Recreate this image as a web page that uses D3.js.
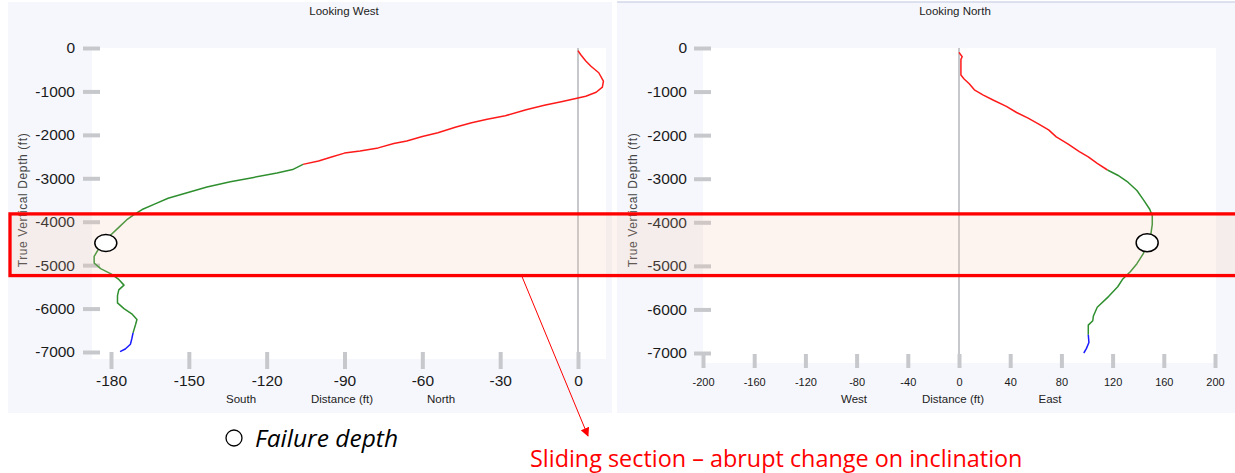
<!DOCTYPE html>
<html lang="en">
<head>
  <meta charset="UTF-8" />
  <title>Wellbore trajectory - Looking West / Looking North</title>
  <script src="https://d3js.org/d3.v7.min.js"></script>
  <style>
    body { margin: 0; background: #fff; }
    svg { display: block; font-family: "Liberation Sans", Arial, sans-serif; }
  </style>
</head>
<body>
  <svg id="chart" width="1235" height="473"></svg>

  <script>
    // Tick values
    const depthTicks = [0, -1000, -2000, -3000, -4000, -5000, -6000, -7000];
    const westTicks = [-180, -150, -120, -90, -60, -30, 0];
    const northTicks = [-200, -160, -120, -80, -40, 0, 40, 80, 120, 160, 200];

    // Looking West: [north/south distance (ft), true vertical depth (ft)]
    const westRed = [
      [0, -60], [1, -150], [3, -300], [5, -420], [8, -570], [9.8, -760], [9.4, -900],
      [7, -1020], [3, -1110], [0, -1150], [-6, -1230], [-13, -1320], [-20, -1420],
      [-28, -1560], [-35, -1640], [-41, -1720], [-47, -1820], [-54, -1950], [-60, -2040],
      [-66, -2140], [-71, -2200], [-77, -2300], [-84, -2370], [-90, -2420], [-95, -2510],
      [-100, -2600], [-106, -2680]
    ];
    const westGreen = [
      [-106, -2680], [-110, -2800], [-116, -2880], [-125, -2980], [-134, -3080],
      [-143, -3200], [-151, -3340], [-158, -3460], [-163, -3590], [-168, -3720],
      [-171, -3830], [-174, -3960], [-177, -4130], [-180, -4300], [-182.5, -4500],
      [-185, -4650], [-186.5, -4800], [-186.5, -4950], [-184, -5080], [-180, -5200],
      [-177, -5330], [-175, -5460], [-177, -5570], [-177.5, -5700], [-177.5, -5870],
      [-175, -6000], [-172, -6120], [-170, -6250], [-170.5, -6360], [-171.5, -6560]
    ];
    const westBlue = [
      [-171.5, -6560], [-172, -6700], [-172.5, -6820], [-174.5, -6930], [-176.5, -6990]
    ];

    // Looking North: [east/west distance (ft), true vertical depth (ft)]
    const northRed = [
      [0, -100], [2.5, -200], [1.5, -260], [1.5, -620], [4, -710], [8, -820],
      [12, -960], [19, -1080], [27, -1200], [37, -1340], [45, -1480], [54, -1610],
      [62, -1740], [70, -1880], [76, -2040], [85, -2200], [94, -2380], [101, -2500],
      [108, -2650], [116, -2800]
    ];
    const northGreen = [
      [116, -2800], [124, -2920], [132, -3080], [139, -3270], [144, -3480],
      [149, -3700], [151, -3850], [151, -4050], [150, -4250], [147, -4480],
      [144, -4720], [139, -4950], [134, -5130], [128, -5300], [124, -5480],
      [117, -5700], [108, -5950], [105, -6150], [104.5, -6260], [101, -6360], [101, -6580]
    ];
    const northBlue = [
      [101, -6580], [101.5, -6760], [99.5, -6900], [97.5, -7000]
    ];

    // Failure depth markers and sliding section (depth range)
    const westFailure = [-182, -4490];
    const northFailure = [147, -4470];
    const slidingSection = [-3820, -5240];

    const svg = d3.select("#chart");

    const defs = svg.append("defs");
    defs.append("marker")
      .attr("id", "arrow")
      .attr("viewBox", "0 0 10 10")
      .attr("refX", 9).attr("refY", 5)
      .attr("markerWidth", 9).attr("markerHeight", 9)
      .attr("markerUnits", "userSpaceOnUse")
      .attr("orient", "auto")
      .append("path")
      .attr("d", "M0,0 L10,5 L0,10 z")
      .attr("fill", "#ff0000");

    function drawPanel(p) {
      const g = svg.append("g");

      // panel background + plot area
      g.append("rect")
        .attr("x", p.bg[0]).attr("y", p.bg[1])
        .attr("width", p.bg[2]).attr("height", p.bg[3])
        .attr("fill", "#f6f7fc");
      if (p.topBorder) {
        g.append("line")
          .attr("x1", p.bg[0]).attr("x2", p.bg[0] + p.bg[2])
          .attr("y1", p.bg[1]).attr("y2", p.bg[1])
          .attr("stroke", "#d3d8ea").attr("stroke-width", 1.5);
      }

      const x = d3.scaleLinear().domain(p.xDomain).range(p.xRange);
      const y = d3.scaleLinear().domain([0, -7000]).range(p.yRange);

      g.append("rect")
        .attr("x", p.plot[0]).attr("y", p.plot[1])
        .attr("width", p.plot[2] - p.plot[0]).attr("height", p.plot[3] - p.plot[1])
        .attr("fill", "#ffffff");

      // title
      g.append("text")
        .attr("x", p.titleX).attr("y", 15)
        .attr("text-anchor", "middle")
        .attr("font-size", "11.5px")
        .attr("fill", "#222")
        .text(p.title);

      // vertical zero line
      g.append("line")
        .attr("x1", x(0)).attr("x2", x(0))
        .attr("y1", p.plot[1]).attr("y2", p.xAxisY)
        .attr("stroke", "#b4b6ba").attr("stroke-width", 1.5);

      // Y axis
      const yAxis = g.append("g")
        .attr("transform", `translate(${p.yAxisX},0)`)
        .call(d3.axisLeft(y).tickValues(depthTicks).tickSize(17).tickPadding(p.yPad)
          .tickFormat(d => String(d)));
      yAxis.select(".domain").remove();
      yAxis.selectAll(".tick line").attr("stroke", "#c6c8cc").attr("stroke-width", 4);
      yAxis.selectAll(".tick text")
        .attr("font-size", "15.5px").attr("fill", "#1a1a1a")
        .attr("font-family", "Liberation Sans, Arial, sans-serif");

      // X axis
      const xAxis = g.append("g")
        .attr("transform", `translate(0,${p.xAxisY})`)
        .call(d3.axisBottom(x).tickValues(p.xTicks).tickSize(p.xTickLen).tickPadding(p.xPad)
          .tickFormat(d => String(d)));
      xAxis.select(".domain").remove();
      xAxis.selectAll(".tick line").attr("stroke", "#c6c8cc").attr("stroke-width", 4);
      xAxis.selectAll(".tick text")
        .attr("font-size", p.xFont).attr("fill", "#1a1a1a")
        .attr("font-family", "Liberation Sans, Arial, sans-serif");

      // axis titles
      p.xTitles.forEach(t => {
        g.append("text")
          .attr("x", t[1]).attr("y", 403)
          .attr("text-anchor", "middle")
          .attr("font-size", "11.5px")
          .attr("fill", "#222")
          .text(t[0]);
      });
      g.append("text")
        .attr("transform", `translate(${p.yTitleX},200) rotate(-90)`)
        .attr("text-anchor", "middle")
        .attr("font-size", "12px")
        .attr("letter-spacing", "0.6px")
        .attr("fill", "#444")
        .text("True Vertical Depth (ft)");

      // trajectory
      const line = d3.line().x(d => x(d[0])).y(d => y(d[1]));
      [[p.red, "#ff1a1a"], [p.green, "#2f8f2f"], [p.blue, "#1a1aff"]].forEach(s => {
        g.append("path")
          .datum(s[0])
          .attr("fill", "none")
          .attr("stroke", s[1])
          .attr("stroke-width", 1.5)
          .attr("stroke-linejoin", "round")
          .attr("d", line);
      });

      return { x, y };
    }

    const west = drawPanel({
      bg: [8, 2, 604, 411],
      plot: [92, 48, 606, 359],
      xDomain: [-180, 0], xRange: [111, 578],
      yRange: [48, 352],
      title: "Looking West", titleX: 344,
      yAxisX: 100, yPad: 8,
      xAxisY: 352, xTickLen: 17, xPad: 6, xFont: "15.5px",
      xTicks: westTicks,
      xTitles: [["South", 241], ["Distance (ft)", 342], ["North", 441]],
      yTitleX: 27,
      red: westRed, green: westGreen, blue: westBlue
    });

    const north = drawPanel({
      bg: [617, 2, 618, 411],
      topBorder: true,
      plot: [703, 48, 1216, 363],
      xDomain: [-200, 200], xRange: [703, 1215],
      yRange: [48, 353],
      title: "Looking North", titleX: 955,
      yAxisX: 711, yPad: 7,
      xAxisY: 354, xTickLen: 14, xPad: 10, xFont: "11px",
      xTicks: northTicks,
      xTitles: [["West", 854], ["Distance (ft)", 953], ["East", 1050]],
      yTitleX: 637,
      red: northRed, green: northGreen, blue: northBlue
    });

    // sliding section band (depths mapped with the left panel scale)
    const bandTop = west.y(slidingSection[0]);
    const bandBottom = west.y(slidingSection[1]);
    svg.append("rect")
      .attr("x", 10).attr("y", bandTop)
      .attr("width", 1240).attr("height", bandBottom - bandTop)
      .attr("fill", "#f6c4a8").attr("fill-opacity", 0.18)
      .attr("stroke", "#ff0000").attr("stroke-width", 3.3);

    // failure depth markers
    svg.append("ellipse")
      .attr("cx", west.x(westFailure[0])).attr("cy", west.y(westFailure[1]))
      .attr("rx", 11).attr("ry", 8.5)
      .attr("fill", "#fff").attr("stroke", "#000").attr("stroke-width", 1.5);
    svg.append("ellipse")
      .attr("cx", north.x(northFailure[0])).attr("cy", north.y(northFailure[1]))
      .attr("rx", 11).attr("ry", 9)
      .attr("fill", "#fff").attr("stroke", "#000").attr("stroke-width", 1.5);

    // arrow to caption
    svg.append("line")
      .attr("x1", 522).attr("y1", bandBottom + 1)
      .attr("x2", 588).attr("y2", 436)
      .attr("stroke", "#ff0000").attr("stroke-width", 1)
      .attr("marker-end", "url(#arrow)");

    // legend: failure depth
    svg.append("circle")
      .attr("cx", 234).attr("cy", 438).attr("r", 8)
      .attr("fill", "#fff").attr("stroke", "#000").attr("stroke-width", 1.3);
    svg.append("text")
      .attr("x", 255).attr("y", 447)
      .attr("font-family", "'Open Sans', sans-serif")
      .attr("font-size", "24.5px").attr("font-style", "italic")
      .attr("fill", "#000")
      .text("Failure depth");

    svg.append("text")
      .attr("x", 530).attr("y", 467)
      .attr("font-family", "'Open Sans', sans-serif")
      .attr("font-size", "23.4px")
      .attr("fill", "#ff0000")
      .text("Sliding section \u2013 abrupt change on inclination");
  </script>
</body>
</html>
